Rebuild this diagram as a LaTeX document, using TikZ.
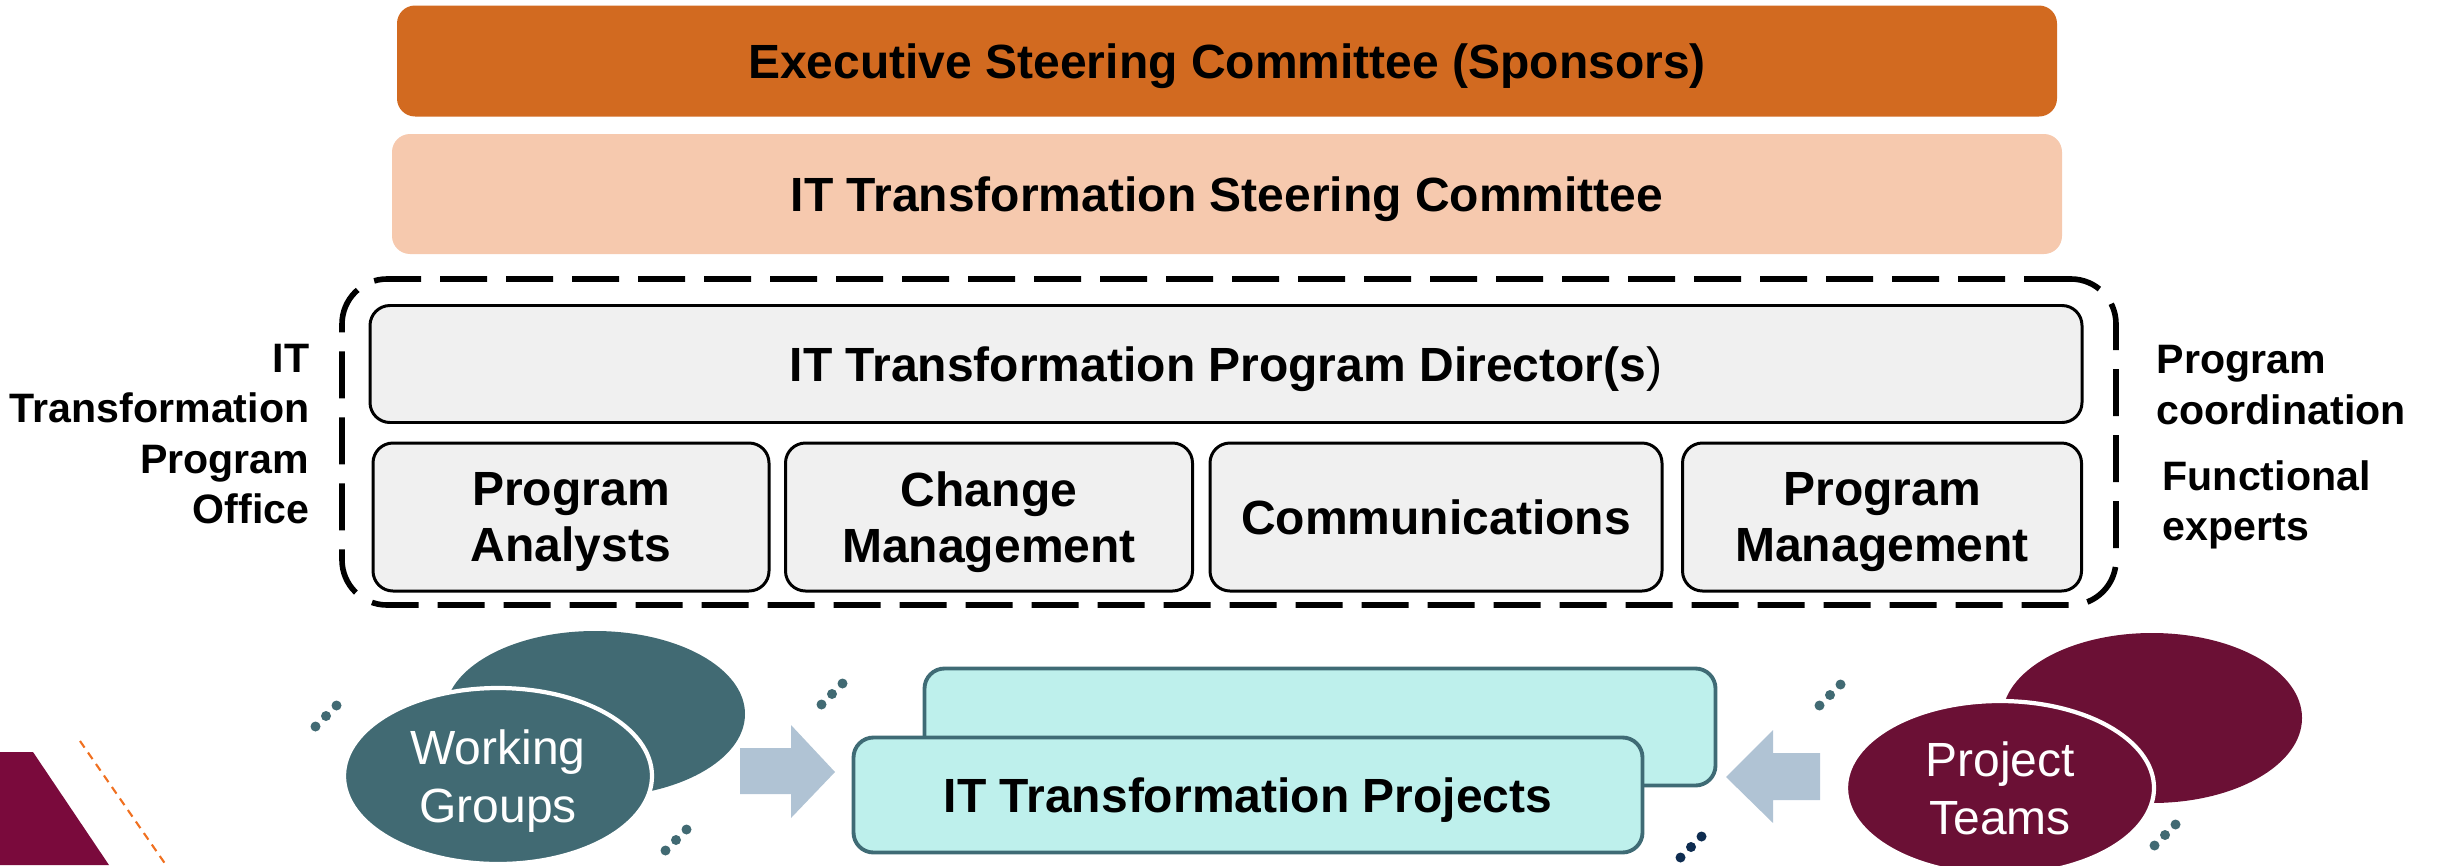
\documentclass[tikz,border=0pt]{standalone}
\usepackage{fontspec}
\setmainfont{Liberation Sans}
\usepackage{tikz}
\usetikzlibrary{shapes.geometric}

\definecolor{execorange}{HTML}{D26A20}
\definecolor{steerpeach}{HTML}{F6C9AE}
\definecolor{boxgray}{HTML}{F0F0F0}
\definecolor{projcyan}{HTML}{BEF0EC}
\definecolor{projedge}{HTML}{3F6B75}
\definecolor{wgteal}{HTML}{416A73}
\definecolor{ptmaroon}{HTML}{6B1035}
\definecolor{arrowblue}{HTML}{B0C3D4}
\definecolor{dotnavy}{HTML}{0E2C50}
\definecolor{cornermaroon}{HTML}{7A0A3C}
\definecolor{lineorange}{HTML}{F07020}

\begin{document}
\begin{tikzpicture}[x=0.1mm,y=-0.1mm,
 bigfont/.style={font=\fontsize{13.66pt}{15.9pt}\selectfont\bfseries},
 sidefont/.style={font=\fontsize{11.7pt}{14.4pt}\selectfont\bfseries},
 band/.style={rectangle,rounded corners=1.8mm,inner sep=0pt,align=center,text depth=0pt,bigfont},
 graybox/.style={band,draw=black,line width=0.85pt,fill=boxgray,rounded corners=2mm},
 projbox/.style={band,draw=projedge,line width=1.1pt,fill=projcyan,rounded corners=2mm},
 blob/.style={ellipse,inner sep=0pt,align=center,text depth=0pt,text=white,font=\fontsize{13.66pt}{16.5pt}\selectfont}]
 \useasboundingbox (0,0) rectangle (2440,865);

 % top bands
 \node (exec) [band,fill=execorange,minimum width=166mm,minimum height=11.1mm] at (1227,61) {Executive Steering Committee (Sponsors)};
 \node (steer) [band,fill=steerpeach,minimum width=167mm,minimum height=12mm] at (1227,194) {IT Transformation Steering Committee};

 % program office
 \node (pmo) [rectangle,draw=black,line width=1.6pt,dash pattern=on 4.7mm off 1.9mm,rounded corners=4.5mm,minimum width=177.4mm,minimum height=32.6mm] at (1229,442) {};
 \node (dir) [graybox,minimum width=171.2mm,minimum height=11.7mm] at (1226,364) {IT Transformation Program Director(s{\mdseries )}};
 \node (pa) [graybox,minimum width=39.6mm,minimum height=14.8mm] at (571,517) {Program\\Analysts};
 \node (cm) [graybox,minimum width=40.7mm,minimum height=14.8mm] at (989,517) {Change\\Management};
 \node (comm) [graybox,minimum width=45.2mm,minimum height=14.8mm] at (1436,517) {Communications};
 \node (pm) [graybox,minimum width=39.9mm,minimum height=14.8mm] at (1882,517) {Program\\Management};

 % side labels
 \node (office) [sidefont,anchor=east,align=right,inner sep=0pt] at (310,434) {IT\\Transformation\\Program\\Office};
 \node (coord) [sidefont,anchor=west,align=left,inner sep=0pt] at (2156,385) {Program\\coordination};
 \node (experts) [sidefont,anchor=west,align=left,inner sep=0pt] at (2162,505) {Functional\\experts};

 % projects
 \node (projback) [projbox,minimum width=79.1mm,minimum height=11.7mm] at (1320,727) {};
 \node (proj) [projbox,minimum width=78.9mm,minimum height=11.5mm] at (1248,795) {IT Transformation Projects};

 % working groups and project teams
 \node (wgback) [blob,fill=wgteal,minimum width=30mm,minimum height=16.6mm] at (595,714) {};
 \node (wg) [blob,fill=wgteal,draw=white,line width=1.2pt,minimum width=30.8mm,minimum height=17.6mm] at (498,776) {Working\\Groups};
 \node (ptback) [blob,fill=ptmaroon,minimum width=30mm,minimum height=17mm] at (2152,718) {};
 \node (pt) [blob,fill=ptmaroon,draw=white,line width=1.2pt,minimum width=30.8mm,minimum height=17.4mm] at (2000,788) {Project\\Teams};

 % block arrows
 \fill [arrowblue] (740,748) -- (791,748) -- (791,725) -- (835,772) -- (791,818) -- (791,794) -- (740,794) -- cycle;
 \fill [arrowblue] (1820,753) -- (1773,753) -- (1773,730) -- (1726,777) -- (1773,823) -- (1773,800) -- (1820,800) -- cycle;

 % dots
 \foreach \cx/\cy/\c in {326/716/wgteal,832/694/wgteal,676/840/wgteal,1830/695/wgteal,1691/847/dotnavy,2165/835/wgteal}
  \foreach \k in {-1,0,1}
   \fill [\c] (\cx+10.5*\k,\cy-10.5*\k) circle [radius=5];

 % corner decoration
 \fill [cornermaroon] (0,752) -- (33,752) -- (109,865) -- (0,865) -- cycle;
 \draw [lineorange,line width=0.6pt,dash pattern=on 0.8mm off 0.6mm] (80,741) -- (166,865);
\end{tikzpicture}
\end{document}
